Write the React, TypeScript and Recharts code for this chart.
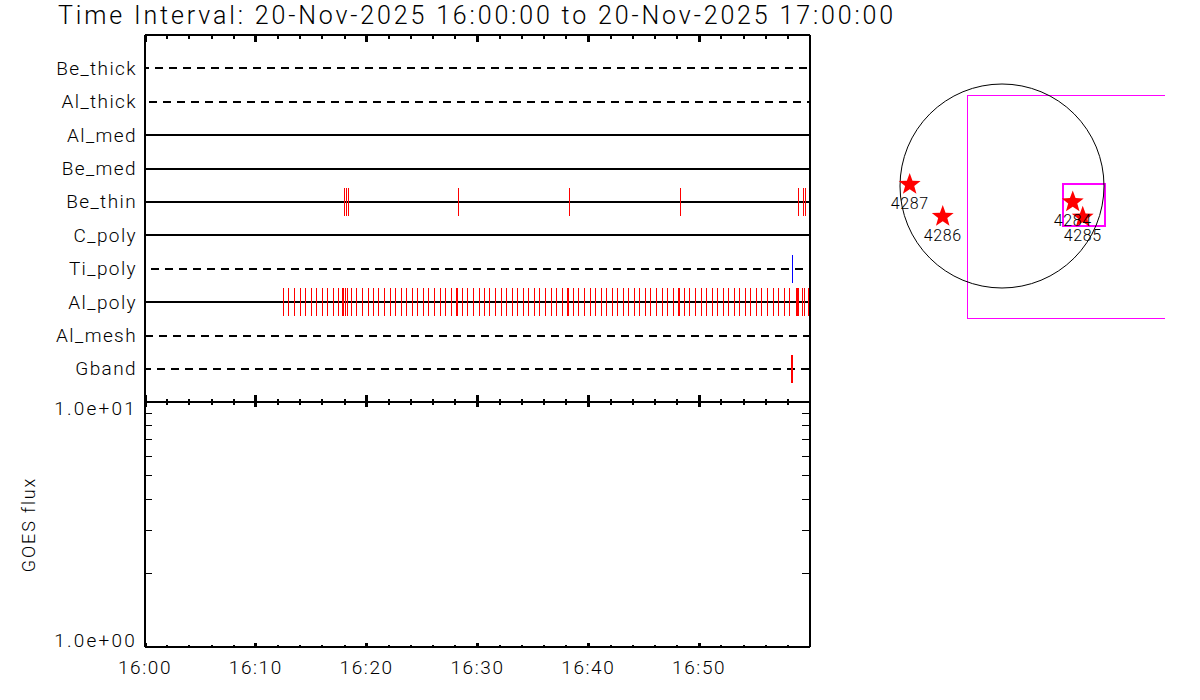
import {
  ComposedChart,
  Line,
  Scatter,
  XAxis,
  YAxis,
  ReferenceLine,
  ReferenceArea,
  ReferenceDot,
} from 'recharts';

const FONT = 'Roboto, sans-serif';
const TITLE = 'Time Interval: 20-Nov-2025 16:00:00 to 20-Nov-2025 17:00:00';

const CHANNELS = ['Be_thick', 'Al_thick', 'Al_med', 'Be_med', 'Be_thin', 'C_poly', 'Ti_poly', 'Al_poly', 'Al_mesh', 'Gband'];
const ROWS = [1, 2, 3, 4, 5, 6, 7, 8, 9, 10];
// channels with no data for the whole hour are drawn dashed, dash phase follows the original
const DASH_OFFSET: Record<string, number | null> = {
  Be_thick: 4,
  Al_thick: 10,
  Al_med: null,
  Be_med: null,
  Be_thin: null,
  C_poly: null,
  Ti_poly: 8,
  Al_poly: null,
  Al_mesh: 0,
  Gband: 2,
};

// exposure times, minutes after 16:00
const BE_THIN_TIMES = [18.0, 18.18, 18.36, 28.29, 38.3, 48.33, 58.96, 59.41, 59.59];
const TI_POLY_TIMES = [58.42];
const GBAND_TIMES = [58.33, 58.42];
const AL_POLY_TIMES = [
  12.48, 12.93, 13.47, 14.01, 14.47, 15.01, 15.46, 16.0, 16.45, 16.99, 17.44, 17.8, 17.89, 18.08, 18.26, 18.62, 19.07,
  19.61, 20.15, 20.6, 21.05, 21.6, 22.14, 22.59, 23.13, 23.58, 24.12, 24.57, 25.12, 25.57, 26.11, 26.65, 27.1, 27.64,
  28.09, 28.18, 28.64, 29.09, 29.63, 30.17, 30.62, 31.07, 31.61, 32.15, 32.61, 33.15, 33.6, 34.14, 34.59, 35.13, 35.58,
  36.13, 36.67, 37.12, 37.66, 38.11, 38.23, 38.65, 39.1, 39.65, 40.19, 40.64, 41.18, 41.63, 42.17, 42.62, 43.17, 43.62,
  44.16, 44.61, 45.15, 45.6, 46.14, 46.69, 47.14, 47.68, 48.13, 48.25, 48.67, 49.12, 49.66, 50.21, 50.66, 51.2, 51.65,
  52.19, 52.64, 53.18, 53.64, 54.18, 54.63, 55.17, 55.62, 56.16, 56.7, 57.16, 57.7, 58.15, 58.78, 58.87, 58.96, 59.32,
  59.5, 59.86,
];

const MINUTE_TICKS = [
  0, 2, 4, 6, 8, 10, 12, 14, 16, 18, 20, 22, 24, 26, 28, 30, 32, 34, 36, 38, 40, 42, 44, 46, 48, 50, 52, 54, 56, 58,
];
const TIME_LABELS: Record<number, string> = { 0: '16:00', 10: '16:10', 20: '16:20', 30: '16:30', 40: '16:40', 50: '16:50' };
const FLUX_TICKS = [1, 2, 3, 4, 5, 6, 7, 8, 9, 10];
const FLUX_LABELS: Record<number, string> = { 1: '1.0e+00', 10: '1.0e+01' };

// active regions, arcsec from disk centre
const REGION_IDS = ['4287', '4286', '4284', '4285'];
const REGION_X = [-877, -563, 672, 767];
const REGION_Y = [14, -290, -152, -297];
const SOLAR_RADIUS = 969;
const FOV_X = [1549, -328, -328, 1549];
const FOV_Y = [862, 862, -1257, -1257];

const regions = REGION_IDS.map((id, i) => ({ id, x: REGION_X[i], y: REGION_Y[i] }));
const fovOutline = FOV_X.map((x, i) => ({ x, y: FOV_Y[i] }));

const LEFT = 145;
const PLOT_W = 665;
const W = 1200;
const H = 700;
const AXIS_LINE = { stroke: '#000', strokeWidth: 2, shapeRendering: 'crispEdges' };

function timeTick(dir: number, major: number, minor: number, labelled = false) {
  return (props: any) => {
    const { x, y, payload } = props;
    const isMajor = payload.value % 10 === 0;
    return (
      <g>
        <line
          x1={x}
          x2={x}
          y1={y}
          y2={y + dir * (isMajor ? major : minor)}
          stroke="#000"
          strokeWidth={isMajor ? 3 : 2}
          shapeRendering="crispEdges"
        />
        {labelled && TIME_LABELS[payload.value] && (
          <text x={x} y={y + 27} textAnchor="middle" fontFamily={FONT} fontWeight={300} fontSize={19} letterSpacing={1.6} fill="#000">
            {TIME_LABELS[payload.value]}
          </text>
        )}
      </g>
    );
  };
}

function RowTick(props: any) {
  const { x, y, payload } = props;
  return (
    <text x={x} y={y + 6.5} textAnchor="end" fontFamily={FONT} fontWeight={300} fontSize={19} letterSpacing={1.4} fill="#000">
      {CHANNELS[payload.value - 1]}
    </text>
  );
}

function FluxTick(props: any) {
  const { x, y, payload } = props;
  const label = FLUX_LABELS[payload.value];
  return (
    <g>
      {payload.value > 1 && payload.value < 10 && (
        <line x1={x + 8} x2={x + 15} y1={y} y2={y} stroke="#000" strokeWidth={1} shapeRendering="crispEdges" />
      )}
      {label && (
        <text x={x} y={payload.value === 10 ? y + 13 : y} textAnchor="end" fontFamily={FONT} fontWeight={300} fontSize={19} letterSpacing={2.2} fill="#000">
          {label}
        </text>
      )}
    </g>
  );
}

function FluxTickRight(props: any) {
  const { x, y, payload } = props;
  if (payload.value === 1 || payload.value === 10) return <g />;
  return <line x1={x - 1} x2={x - 8} y1={y} y2={y} stroke="#000" strokeWidth={1} shapeRendering="crispEdges" />;
}

function EventMark(props: any) {
  const { cx, cy, fill } = props;
  return <line x1={cx} x2={cx} y1={cy - 14} y2={cy + 14} stroke={fill} strokeWidth={1} shapeRendering="crispEdges" />;
}

function Star(props: any) {
  const { cx, cy } = props;
  const pts: string[] = [];
  for (let i = 0; i < 10; i++) {
    const r = i % 2 === 0 ? 11.5 : 4.8;
    const a = (Math.PI / 5) * i - Math.PI / 2;
    pts.push(`${cx + r * Math.cos(a)},${cy + r * Math.sin(a)}`);
  }
  return <polygon points={pts.join(' ')} fill="#ff0000" />;
}

function RegionLabel(props: any) {
  const { cx, cy, payload } = props;
  return (
    <text x={cx} y={cy + 24} textAnchor="middle" fontFamily={FONT} fontWeight={300} fontSize={16} letterSpacing={0.6} fill="#000">
      {payload.id}
    </text>
  );
}

const eventRow = (times: number[], channel: string) => times.map((t) => ({ t, row: CHANNELS.indexOf(channel) + 1 }));

function ChannelPanel() {
  return (
    <ComposedChart width={W} height={H} margin={{ top: 34, right: W - LEFT - PLOT_W - 1, bottom: H - 402.3 - 1, left: 0 }} style={{ position: 'absolute', left: 0, top: 0 }}>
      <XAxis
        dataKey="t"
        type="number"
        domain={[0, 60]}
        allowDataOverflow
        ticks={MINUTE_TICKS}
        interval={0}
        height={1}
        tickSize={0}
        tickMargin={0}
        tickLine={false}
        axisLine={AXIS_LINE}
        tick={timeTick(-1, 7, 3)}
      />
      <XAxis
        xAxisId="top"
        dataKey="t"
        orientation="top"
        type="number"
        domain={[0, 60]}
        allowDataOverflow
        ticks={MINUTE_TICKS}
        interval={0}
        height={1}
        tickSize={0}
        tickMargin={0}
        tickLine={false}
        axisLine={AXIS_LINE}
        tick={timeTick(1, 7, 4)}
      />
      <YAxis
        dataKey="row"
        type="number"
        domain={[0, 11]}
        reversed
        allowDataOverflow
        ticks={ROWS}
        interval={0}
        width={LEFT}
        tickSize={0}
        tickMargin={8}
        tickLine={false}
        axisLine={AXIS_LINE}
        tick={RowTick}
      />
      <YAxis yAxisId="right" orientation="right" type="number" domain={[0, 11]} width={1} tick={false} tickLine={false} axisLine={AXIS_LINE} />
      {CHANNELS.map((name, i) => {
        const offset = DASH_OFFSET[name];
        return (
          <ReferenceLine
            key={name}
            y={ROWS[i]}
            stroke="#000"
            strokeWidth={2}
            shapeRendering="crispEdges"
            strokeDasharray={offset === null ? undefined : '8 6'}
            strokeDashoffset={offset === null ? undefined : offset}
          />
        );
      })}
      <Scatter data={eventRow(BE_THIN_TIMES, 'Be_thin')} dataKey="row" fill="#ff0000" shape={EventMark} isAnimationActive={false} />
      <Scatter data={eventRow(TI_POLY_TIMES, 'Ti_poly')} dataKey="row" fill="#0000ff" shape={EventMark} isAnimationActive={false} />
      <Scatter data={eventRow(AL_POLY_TIMES, 'Al_poly')} dataKey="row" fill="#ff0000" shape={EventMark} isAnimationActive={false} />
      <Scatter data={eventRow(GBAND_TIMES, 'Gband')} dataKey="row" fill="#ff0000" shape={EventMark} isAnimationActive={false} />
    </ComposedChart>
  );
}

function FluxPanel() {
  return (
    <ComposedChart width={W} height={H} margin={{ top: 401, right: W - LEFT - PLOT_W - 1, bottom: H - 647 - 1, left: 0 }} style={{ position: 'absolute', left: 0, top: 0 }}>
      <XAxis
        dataKey="t"
        type="number"
        domain={[0, 60]}
        allowDataOverflow
        ticks={MINUTE_TICKS}
        interval={0}
        height={1}
        tickSize={0}
        tickMargin={0}
        tickLine={false}
        axisLine={AXIS_LINE}
        tick={timeTick(-1, 4, 2, true)}
      />
      <XAxis
        xAxisId="top"
        dataKey="t"
        orientation="top"
        type="number"
        domain={[0, 60]}
        allowDataOverflow
        ticks={MINUTE_TICKS}
        interval={0}
        height={1}
        tickSize={0}
        tickMargin={0}
        tickLine={false}
        axisLine={AXIS_LINE}
        tick={timeTick(1, 5, 3)}
      />
      <YAxis
        type="number"
        scale="log"
        domain={[1, 10]}
        allowDataOverflow
        ticks={FLUX_TICKS}
        interval={0}
        width={LEFT}
        tickSize={0}
        tickMargin={8}
        tickLine={false}
        axisLine={AXIS_LINE}
        tick={FluxTick}
        label={{ value: 'GOES flux', angle: -90, position: 'insideLeft', offset: 29, textAnchor: 'middle', fontFamily: FONT, fontWeight: 300, fontSize: 18, letterSpacing: 1.9, fill: '#000' }}
      />
      <YAxis
        yAxisId="right"
        orientation="right"
        type="number"
        scale="log"
        domain={[1, 10]}
        allowDataOverflow
        ticks={FLUX_TICKS}
        interval={0}
        width={1}
        tickSize={0}
        tickMargin={0}
        tickLine={false}
        axisLine={AXIS_LINE}
        tick={FluxTickRight}
      />
    </ComposedChart>
  );
}

function DiskPanel() {
  return (
    <ComposedChart width={W} height={H} margin={{ top: 76, right: 34, bottom: 374, left: 882 }} style={{ position: 'absolute', left: 0, top: 0 }}>
      <XAxis dataKey="x" type="number" domain={[-1140, 1558]} allowDataOverflow hide />
      <YAxis dataKey="y" type="number" domain={[-1330, 1045]} allowDataOverflow hide />
      <Line data={fovOutline} dataKey="y" stroke="#ff00ff" strokeWidth={1} dot={false} isAnimationActive={false} shapeRendering="crispEdges" />
      <ReferenceArea x1={575} x2={974} y1={-380} y2={19} fill="none" stroke="#ff00ff" strokeWidth={2} shapeRendering="crispEdges" ifOverflow="visible" />
      <ReferenceArea x1={584} x2={978} y1={-380} y2={14} fill="none" stroke="#ff00ff" strokeWidth={1} shapeRendering="crispEdges" ifOverflow="visible" />
      <ReferenceDot x={0} y={0} r={SOLAR_RADIUS / 9.5} fill="none" stroke="#000" strokeWidth={1} ifOverflow="visible" />
      <Scatter data={regions} dataKey="y" shape={Star} isAnimationActive={false} />
      <Scatter data={regions} dataKey="y" shape={RegionLabel} isAnimationActive={false} />
    </ComposedChart>
  );
}

export default function App() {
  return (
    <div style={{ position: 'absolute', left: 0, top: 0, width: W, height: H, background: '#fff', overflow: 'hidden' }}>
      <FluxPanel />
      <ChannelPanel />
      <DiskPanel />
      <div
        style={{
          position: 'absolute',
          left: 58,
          top: 0,
          whiteSpace: 'pre',
          fontFamily: FONT,
          fontWeight: 300,
          fontSize: 25,
          lineHeight: '31px',
          letterSpacing: 2.85,
          color: '#000',
        }}
      >
        {TITLE}
      </div>
    </div>
  );
}
